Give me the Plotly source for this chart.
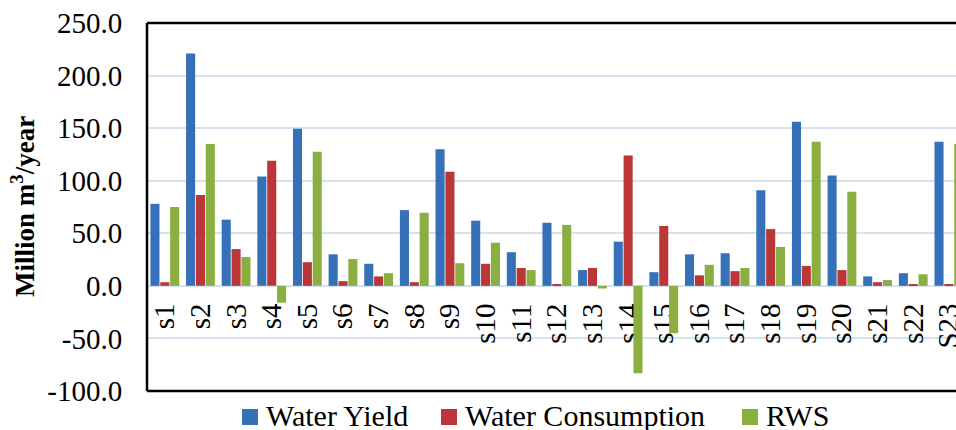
import plotly.graph_objects as go

# Sub-basins and annual water balance (million m3/year)
categories = ["s1", "s2", "s3", "s4", "s5", "s6", "s7", "s8", "s9", "s10", "s11", "s12",
              "s13", "s14", "s15", "s16", "s17", "s18", "s19", "s20", "s21", "s22", "S23"]
water_yield = [78, 221, 63, 104, 149.5, 30, 21, 72, 130, 62, 32, 60,
               15, 42, 13, 30, 31, 91, 156, 105, 9, 12, 137]
water_consumption = [3.5, 86.5, 35, 119, 22.5, 4.5, 9, 3.5, 108.5, 21, 17, 1.5,
                     17, 124, 57, 10, 14, 54, 19, 15, 3.5, 1.5, 1.5]
rws = [75, 135, 27.5, -16, 127.5, 25.5, 12, 69.5, 21.5, 41, 15, 58,
       -2.5, -83, -45, 20, 17, 37, 137, 89.5, 5.5, 11, 135]
y_ticks = [-100, -50, 0, 50, 100, 150, 200, 250]
y_ticktext = [f"{v:.1f}" for v in y_ticks]  # plain hyphen, like the original

series = [("Water Yield", water_yield, "#3670b8"),
          ("Water Consumption", water_consumption, "#bb3636"),
          ("RWS", rws, "#8aae40")]

FONT = "Liberation Serif"
grid_color = "#d6e2f0"

W, H = 956, 430
ML, MT, MB = 147, 23, 39
plot_w, plot_h = W - ML, H - MT - MB


def px_to_paper(vx, vy):
    # window pixel -> paper fraction
    return (vx - ML) / plot_w, (H - MB - vy) / plot_h


fig = go.Figure()
for name, vals, color in series:
    fig.add_trace(go.Bar(x=categories, y=vals, name=name,
                         marker=dict(color=color, line=dict(width=0))))

y_min, y_max = y_ticks[0], y_ticks[-1]
zero_pos = (0 - y_min) / (y_max - y_min)

fig.update_layout(
    width=W, height=H,
    margin=dict(l=ML, r=0, t=MT, b=MB),
    paper_bgcolor="white", plot_bgcolor="white",
    font=dict(family=FONT, size=29, color="black"),
    barmode="group", bargap=0.17, bargroupgap=0.08,
    showlegend=False,
    xaxis=dict(
        type="category", range=[-0.5, 22.2],
        anchor="free", position=zero_pos, layer="below traces",
        tickangle=-90, showgrid=False, showline=False, zeroline=False,
        ticks="outside", ticklen=5, tickcolor="rgba(0,0,0,0)",
        tickfont=dict(family=FONT, size=29, color="black"),
        ticklabeloverflow="allow", automargin=False,
    ),
    yaxis=dict(
        range=[y_min, y_max], tickvals=y_ticks, ticktext=y_ticktext,
        showgrid=True, gridcolor=grid_color, gridwidth=2,
        zeroline=True, zerolinecolor=grid_color, zerolinewidth=2,
        showline=False,
        ticks="outside", ticklen=18, tickcolor="rgba(0,0,0,0)",
        tickfont=dict(family=FONT, size=29, color="black"),
        ticklabeloverflow="allow", automargin=False,
    ),
)

# plot-area frame (right edge falls outside the picture)
for x0, y0, x1, y1 in [(0, 1, 1, 1), (0, 0, 0, 1), (0, 0, 1, 0)]:
    fig.add_shape(type="line", xref="paper", yref="paper", x0=x0, y0=y0, x1=x1, y1=y1,
                  line=dict(color="black", width=2.5), layer="above")

# legend drawn by hand to match the original spacing
legend_x = [242, 441, 742]
for (name, _, color), lx in zip(series, legend_x):
    x0, y0 = px_to_paper(lx, 425)
    x1, y1 = px_to_paper(lx + 16, 409)
    fig.add_shape(type="rect", xref="paper", yref="paper", x0=x0, y0=y0, x1=x1, y1=y1,
                  fillcolor=color, line=dict(width=0))
    tx, ty = px_to_paper(lx + 22, 415)
    fig.add_annotation(text=name, xref="paper", yref="paper", x=tx, y=ty,
                       xanchor="left", yanchor="middle", showarrow=False,
                       font=dict(family=FONT, size=30, color="black"))

fig.add_annotation(
    text="<b>Million m<sup>3</sup>/year</b>", textangle=-90,
    xref="paper", yref="paper", x=px_to_paper(23, 0)[0], y=px_to_paper(0, 207)[1],
    xanchor="center", yanchor="middle",
    showarrow=False, font=dict(family=FONT, size=27, color="black"),
)

# drop the default page margin so the full 956px width is visible
fig.write_html("out.html", config={"displayModeBar": False},
               post_script="document.body.style.margin='0';")
